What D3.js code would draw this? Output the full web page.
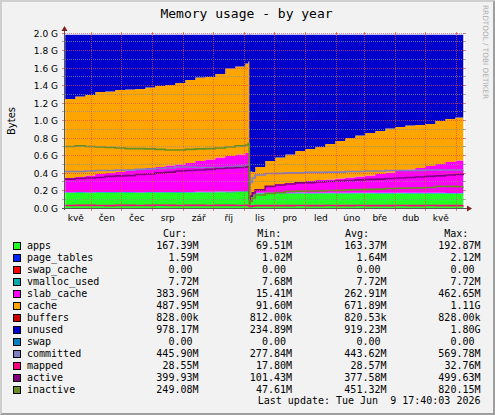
<!DOCTYPE html>
<html>
<head>
<meta charset="utf-8">
<script src="https://cdn.jsdelivr.net/npm/d3@7"></script>
<style>
html, body { margin: 0; padding: 0; background: #fff; }
svg { display: block; }
text { white-space: pre; }
</style>
</head>
<body>
<svg id="chart" width="495" height="415"></svg>
<script>
// sample dates (one sample about every 10 days, denser around the reboot)
const dates = [
    '2025-05-06', '2025-05-16', '2025-05-26', '2025-06-05', '2025-06-15', '2025-06-25',
    '2025-07-05', '2025-07-15', '2025-07-25', '2025-08-04', '2025-08-14', '2025-08-24',
    '2025-09-03', '2025-09-13', '2025-09-23', '2025-10-03', '2025-10-13', '2025-10-23',
    '2025-11-02', '2025-11-05', '2025-11-06', '2025-11-07', '2025-11-09', '2025-11-12',
    '2025-11-22', '2025-12-02', '2025-12-12', '2025-12-22', '2026-01-01', '2026-01-11',
    '2026-01-21', '2026-01-31', '2026-02-10', '2026-02-20', '2026-03-02', '2026-03-12',
    '2026-03-22', '2026-04-01', '2026-04-11', '2026-04-21', '2026-05-01', '2026-05-11',
    '2026-05-21', '2026-05-31', '2026-06-08'
];

// values in MiB
const apps = [176, 177, 176, 178, 177, 178, 177, 176, 178, 179, 178, 177, 179, 180, 181, 183, 184, 186, 188, 190,
    70, 72, 140,
    170, 171, 171, 170, 171, 170, 170, 169, 170, 170, 169, 169, 168, 168, 169, 168, 168, 168, 168, 167, 167,
    167.39];
const pageTables = [1.4, 1.5, 1.5, 1.6, 1.6, 1.6, 1.7, 1.7, 1.7, 1.8, 1.8, 1.8, 1.9, 1.9, 2.0, 2.0, 2.1, 2.1, 2.1, 2.1,
    1.0, 1.1, 1.2,
    1.3, 1.4, 1.4, 1.5, 1.5, 1.5, 1.6, 1.6, 1.6, 1.6, 1.6, 1.6, 1.6, 1.6, 1.6, 1.6, 1.6, 1.6, 1.6, 1.6, 1.6,
    1.59];
const swapCache = [0, 0, 0, 0, 0, 0, 0, 0, 0, 0, 0, 0, 0, 0, 0, 0, 0, 0, 0, 0,
    0, 0, 0,
    0, 0, 0, 0, 0, 0, 0, 0, 0, 0, 0, 0, 0, 0, 0, 0, 0, 0, 0, 0, 0,
    0];
const vmallocUsed = [7.7, 7.7, 7.7, 7.7, 7.7, 7.7, 7.7, 7.7, 7.7, 7.7, 7.7, 7.7, 7.7, 7.7, 7.7, 7.7, 7.7, 7.7, 7.7, 7.7,
    7.7, 7.7, 7.7,
    7.7, 7.7, 7.7, 7.7, 7.7, 7.7, 7.7, 7.7, 7.7, 7.7, 7.7, 7.7, 7.7, 7.7, 7.7, 7.7, 7.7, 7.7, 7.7, 7.7, 7.7,
    7.72];
const slabCache = [166, 177, 195, 211, 223, 234, 253, 271, 281, 292, 310, 323, 338, 361, 377, 399, 415, 431, 446, 450,
    15.4, 16, 38,
    43, 77, 101, 113, 124, 137, 148, 155, 166, 178, 190, 202, 221, 238, 255, 273, 291, 314, 338, 362, 380,
    383.96];
const cache = [924, 941, 941, 959, 953, 959, 947, 936, 941, 947, 941, 953, 971, 976, 965, 976, 1023, 1029, 1047, 1064,
    91.6, 330, 233,
    257, 292, 309, 333, 362, 374, 385, 415, 438, 462, 479, 497, 502, 514, 514, 514, 502, 491, 503, 503, 502,
    487.95];
const buffers = [0.8, 0.8, 0.8, 0.8, 0.8, 0.8, 0.8, 0.8, 0.8, 0.8, 0.8, 0.8, 0.8, 0.8, 0.8, 0.8, 0.8, 0.8, 0.8, 0.8,
    0.8, 0.8, 0.8,
    0.8, 0.8, 0.8, 0.8, 0.8, 0.8, 0.8, 0.8, 0.8, 0.8, 0.8, 0.8, 0.8, 0.8, 0.8, 0.8, 0.8, 0.8, 0.8, 0.8, 0.8,
    0.81];
const unused = [752, 723, 705, 670, 664, 647, 641, 635, 617, 600, 588, 565, 530, 500, 495, 459, 395, 372, 337, 313,
    1843, 1600, 1606,
    1548, 1478, 1437, 1402, 1361, 1337, 1314, 1279, 1244, 1208, 1179, 1150, 1127, 1097, 1080, 1062, 1056, 1045, 1009, 986, 969,
    978.17];
const swap = [0, 0, 0, 0, 0, 0, 0, 0, 0, 0, 0, 0, 0, 0, 0, 0, 0, 0, 0, 0,
    0, 0, 0,
    0, 0, 0, 0, 0, 0, 0, 0, 0, 0, 0, 0, 0, 0, 0, 0, 0, 0, 0, 0, 0,
    0];
const committed = [427, 427, 433, 439, 439, 445, 445, 451, 456, 462, 468, 480, 480, 474, 474, 474, 480, 486, 492, 503,
    278, 300, 351,
    386, 404, 406, 410, 410, 416, 416, 421, 421, 427, 427, 433, 433, 439, 439, 439, 441, 445, 445, 445, 445,
    445.9];
const mapped = [29, 30, 31, 29, 28, 30, 31, 29, 30, 32, 30, 29, 31, 30, 29, 31, 30, 29, 30, 30,
    17.8, 20, 24,
    27, 28, 28, 28, 29, 28, 28, 29, 28, 28, 29, 28, 28, 28, 29, 28, 28, 29, 28, 28, 28,
    28.55];
const active = [339, 345, 351, 357, 369, 375, 380, 392, 398, 410, 421, 433, 439, 445, 451, 462, 468, 474, 480, 486,
    101.4, 140, 176,
    211, 252, 269, 281, 293, 298, 304, 310, 316, 322, 328, 334, 339, 345, 351, 357, 363, 369, 375, 386, 392,
    399.93];
const inactive = [720, 726, 720, 714, 708, 702, 696, 696, 691, 685, 679, 679, 685, 691, 696, 702, 714, 726, 737, 755,
    47.6, 80, 117,
    152, 170, 181, 193, 197, 199, 201, 205, 207, 211, 214, 217, 222, 228, 231, 234, 236, 240, 252, 252, 249,
    249.08];

// axis labels
const monthLabels = ['kvě', 'čen', 'čec', 'srp', 'zář', 'říj', 'lis', 'pro', 'led', 'úno', 'bře', 'dub', 'kvě'];
const yTickValues = [0, 0.2, 0.4, 0.6, 0.8, 1.0, 1.2, 1.4, 1.6, 1.8, 2.0];

// legend
const legendNames = ['apps', 'page_tables', 'swap_cache', 'vmalloc_used', 'slab_cache', 'cache', 'buffers',
    'unused', 'swap', 'committed', 'mapped', 'active', 'inactive'];
const legendColors = ['#22ff22', '#0022ff', '#ff0000', '#00aaaa', '#ff00ff', '#ffa500', '#cc0000',
    '#0000cc', '#0080c0', '#8080c0', '#ff0080', '#800080', '#688e23'];
const curText = ['167.39M', '1.59M', '0.00 ', '7.72M', '383.96M', '487.95M', '828.00k',
    '978.17M', '0.00 ', '445.90M', '28.55M', '399.93M', '249.08M'];
const minText = ['69.51M', '1.02M', '0.00 ', '7.68M', '15.41M', '91.60M', '812.00k',
    '234.89M', '0.00 ', '277.84M', '17.80M', '101.43M', '47.61M'];
const avgText = ['163.37M', '1.64M', '0.00 ', '7.72M', '262.91M', '671.89M', '820.53k',
    '919.23M', '0.00 ', '443.62M', '28.57M', '377.58M', '451.32M'];
const maxText = ['192.87M', '2.12M', '0.00 ', '7.72M', '462.65M', '1.11G', '828.00k',
    '1.80G', '0.00 ', '569.78M', '32.76M', '499.63M', '820.15M'];

const W = 495, H = 415;
const plotLeft = 65, plotRight = 465, plotTop = 33, plotBottom = 208;
const startTime = new Date(2025, 4, 5, 17, 40);
const endTime = new Date(2026, 5, 9, 17, 40);

const BG = '#f2f2f2';
const GRID = 'rgba(143,143,143,0.75)';
const MGRID = 'rgba(222,79,79,0.7)';
const ARROW = '#801f1f';
const AXIS = '#555';
const MONO = '"DejaVu Sans Mono", monospace';
const SANS = '"DejaVu Sans", sans-serif';

const parseDate = d3.timeParse('%Y-%m-%d');

const rows = dates.map((d, i) => ({
    date: parseDate(d),
    apps: apps[i],
    page_tables: pageTables[i],
    swap_cache: swapCache[i],
    vmalloc_used: vmallocUsed[i],
    slab_cache: slabCache[i],
    cache: cache[i],
    buffers: buffers[i],
    unused: unused[i],
    swap: swap[i],
    committed: committed[i],
    mapped: mapped[i],
    active: active[i],
    inactive: inactive[i]
}));

const stackKeys = legendNames.slice(0, 9);
const lineKeys = legendNames.slice(9);
const colorOf = {};
legendNames.forEach((n, i) => colorOf[n] = legendColors[i]);

const x = d3.scaleTime().domain([startTime, endTime]).range([plotLeft, plotRight]);
const y = d3.scaleLinear().domain([0, 2048]).range([plotBottom, plotTop]);

const svg = d3.select('#chart');

// background + 3d border
svg.append('rect').attr('width', W).attr('height', H).attr('fill', BG);
svg.append('path')
    .attr('d', `M0,0 H${W} L${W - 2},2 H2 V${H - 2} L0,${H} Z`)
    .attr('fill', '#cfcfcf');
svg.append('path')
    .attr('d', `M${W},0 V${H} H0 L2,${H - 2} H${W - 2} V2 Z`)
    .attr('fill', '#9e9e9e');

// canvas
svg.append('rect')
    .attr('x', plotLeft).attr('y', plotTop)
    .attr('width', plotRight - plotLeft).attr('height', plotBottom - plotTop)
    .attr('fill', '#fff');

svg.append('clipPath').attr('id', 'clip')
    .append('rect')
    .attr('x', plotLeft).attr('y', plotTop - 2)
    .attr('width', plotRight - plotLeft).attr('height', plotBottom - plotTop + 2);

const plot = svg.append('g').attr('clip-path', 'url(#clip)');

// stacked areas
const stack = d3.stack().keys(stackKeys);
const series = stack(rows);

const area = d3.area()
    .x(d => x(d.data.date))
    .y0(d => y(d[0]))
    .y1(d => y(d[1]))
    .curve(d3.curveStepAfter);

plot.selectAll('.area')
    .data(series)
    .enter()
    .append('path')
    .attr('class', 'area')
    .attr('d', area)
    .attr('fill', d => colorOf[d.key]);

// lines
lineKeys.forEach(key => {
    const line = d3.line()
        .x(d => x(d.date))
        .y(d => y(d[key]))
        .curve(d3.curveStepAfter);
    plot.append('path')
        .datum(rows)
        .attr('d', line)
        .attr('fill', 'none')
        .attr('stroke', colorOf[key])
        .attr('stroke-width', 1.7);
});

// grid (drawn on top, dotted)
const gridG = svg.append('g');
const hGrid = d3.range(0, 21).map(i => i * 102.4);
hGrid.forEach((v, i) => {
    const yy = Math.floor(y(v)) + 0.5;
    const col = i % 2 === 0 ? MGRID : GRID;
    if (i > 0) {
        gridG.append('line')
            .attr('x1', plotLeft).attr('x2', plotRight)
            .attr('y1', yy).attr('y2', yy)
            .attr('stroke', col).attr('stroke-dasharray', '1,1');
    }
    gridG.append('line')
        .attr('x1', plotLeft - 3).attr('x2', plotLeft)
        .attr('y1', yy).attr('y2', yy).attr('stroke', col);
    gridG.append('line')
        .attr('x1', plotRight - 2).attr('x2', plotRight + 1)
        .attr('y1', yy).attr('y2', yy).attr('stroke', col);
});

const monthStarts = d3.timeMonth.range(d3.timeMonth.ceil(startTime), endTime);
monthStarts.forEach(m => {
    const xx = Math.floor(x(m)) + 0.5;
    gridG.append('line')
        .attr('x1', xx).attr('x2', xx)
        .attr('y1', plotTop).attr('y2', plotBottom)
        .attr('stroke', MGRID).attr('stroke-dasharray', '1,1');
    gridG.append('line')
        .attr('x1', xx).attr('x2', xx)
        .attr('y1', plotBottom).attr('y2', plotBottom + 3)
        .attr('stroke', MGRID);
    gridG.append('line')
        .attr('x1', xx).attr('x2', xx)
        .attr('y1', plotTop - 1).attr('y2', plotTop + 2)
        .attr('stroke', MGRID);
});

// axes lines + arrows
svg.append('line')
    .attr('x1', plotLeft - 0.5).attr('x2', plotLeft - 0.5)
    .attr('y1', plotBottom + 2).attr('y2', plotTop - 4)
    .attr('stroke', AXIS);
svg.append('line')
    .attr('x1', plotLeft - 3).attr('x2', plotRight + 3)
    .attr('y1', plotBottom + 0.5).attr('y2', plotBottom + 0.5)
    .attr('stroke', AXIS);
svg.append('path')
    .attr('d', `M${plotLeft - 0.5},${plotTop - 7} L${plotLeft - 3.5},${plotTop - 2} L${plotLeft + 2.5},${plotTop - 2} Z`)
    .attr('fill', ARROW);
svg.append('path')
    .attr('d', `M${plotRight + 7},${plotBottom + 0.5} L${plotRight + 2},${plotBottom - 2.5} L${plotRight + 2},${plotBottom + 3.5} Z`)
    .attr('fill', ARROW);

// y axis labels
const yAxis = d3.axisLeft(y)
    .tickValues(yTickValues.map(v => v * 1024))
    .tickFormat(v => (v / 1024).toFixed(1) + ' G')
    .tickSize(0)
    .tickPadding(7);
const yAxisG = svg.append('g')
    .attr('transform', `translate(${plotLeft},0)`)
    .call(yAxis);
yAxisG.select('.domain').remove();
yAxisG.selectAll('text')
    .attr('font-family', SANS)
    .attr('font-size', 9)
    .attr('fill', '#000')
    .attr('dy', '0.37em');

// x axis labels, centred in each month
const labelDates = d3.timeMonth.range(d3.timeMonth.floor(startTime), endTime)
    .map(m => d3.timeDay.offset(m, 15));
const xAxis = d3.axisBottom(x)
    .tickValues(labelDates)
    .tickFormat((d, i) => monthLabels[i])
    .tickSize(0)
    .tickPadding(0);
const xAxisG = svg.append('g')
    .attr('transform', `translate(0,${plotBottom})`)
    .call(xAxis);
xAxisG.select('.domain').remove();
xAxisG.selectAll('text')
    .attr('font-family', SANS)
    .attr('font-size', 9)
    .attr('fill', '#000')
    .attr('dy', null)
    .attr('y', 13);

// title, unit label, watermark
svg.append('text')
    .attr('x', 246.5).attr('y', 18)
    .attr('text-anchor', 'middle')
    .attr('font-family', MONO).attr('font-size', 13)
    .text('Memory usage - by year');

svg.append('text')
    .attr('transform', 'translate(15,121) rotate(-90)')
    .attr('text-anchor', 'middle')
    .attr('font-family', SANS).attr('font-size', 10)
    .text('Bytes');

svg.append('text')
    .attr('transform', 'translate(482.5,5) rotate(90)')
    .attr('font-family', SANS).attr('font-size', 7.3)
    .attr('fill', '#b0b0b0')
    .text('RRDTOOL / TOBI OETIKER');

// legend
const legend = svg.append('g')
    .attr('font-family', MONO)
    .attr('font-size', 10)
    .attr('fill', '#000');

const headerY = 237;
[['Cur:', 163], ['Min:', 257.3], ['Avg:', 345], ['Max:', 444.3]].forEach(h => {
    legend.append('text').attr('x', h[1]).attr('y', headerY).text(h[0]);
});

const rowY = i => 249 + 12 * i;
const columns = [[curText, 198.5], [minText, 292], [avgText, 386.5], [maxText, 480.5]];

legendNames.forEach((name, i) => {
    legend.append('rect')
        .attr('x', 13.5).attr('y', rowY(i) - 6.5)
        .attr('width', 7).attr('height', 7)
        .attr('fill', legendColors[i])
        .attr('stroke', '#000').attr('stroke-width', 1);
    legend.append('text')
        .attr('x', 27).attr('y', rowY(i))
        .text(name);
    columns.forEach(c => {
        legend.append('text')
            .attr('x', c[1]).attr('y', rowY(i))
            .attr('text-anchor', 'end')
            .text(c[0][i]);
    });
});

legend.append('text')
    .attr('x', 480.5).attr('y', 404)
    .attr('text-anchor', 'end')
    .text('Last update: Tue Jun  9 17:40:03 2026');
</script>
</body>
</html>
